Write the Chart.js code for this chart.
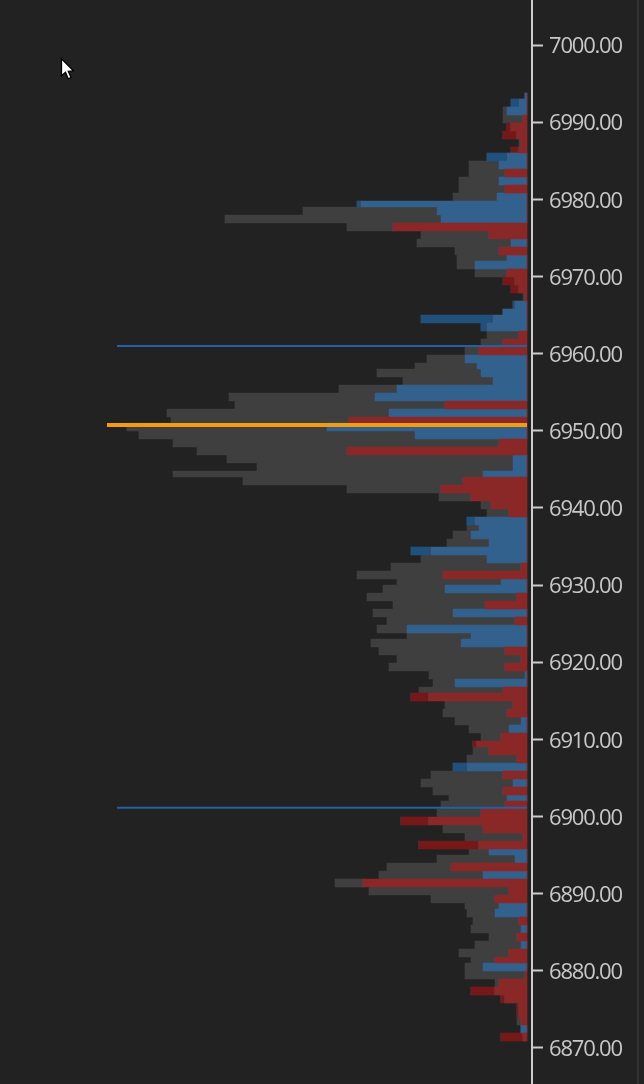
<!DOCTYPE html>
<html lang="en">

<head>
    <meta charset="UTF-8">
    <title>Volume Profile</title>
    <script src="https://cdn.jsdelivr.net/npm/chart.js"></script>
    <style>
        html, body { margin: 0; background: #222222; overflow: hidden; }
        #wrap { position: relative; width: 644px; height: 1084px; }
        #strip { position: absolute; left: 637px; top: 0; width: 2px; height: 1084px; background: #333333; }
        #cursor { position: absolute; left: 59px; top: 57px; }
    </style>
</head>

<body>
    <div id="wrap">
        <canvas id="profile" width="644" height="1084"></canvas>
        <div id="strip"></div>
        <svg id="cursor" width="20" height="25" viewBox="0 0 16 20">
            <path d="M2 1.5 L2 15 L5.2 12.2 L7.4 17.4 L9.6 16.4 L7.4 11.4 L11.5 11 Z" fill="#fff" stroke="#000" stroke-width="1"/>
        </svg>
    </div>

    <script>
        // price rows, top to bottom, and the size of each segment stacked out from the axis
        var prices = [
            6993, 6992, 6991, 6990, 6989, 6988, 6987, 6986, 6985, 6984,
            6983, 6982, 6981, 6980, 6979, 6978, 6977, 6976, 6975, 6974,
            6973, 6972, 6971, 6970, 6969, 6968, 6967, 6966, 6965, 6964,
            6963, 6962, 6961, 6960, 6959, 6958, 6957, 6956, 6955, 6954,
            6953, 6952, 6951, 6950, 6949, 6948, 6947, 6946, 6945, 6944,
            6943, 6942, 6941, 6940, 6939, 6938, 6937, 6936, 6935, 6934,
            6933, 6932, 6931, 6930, 6929, 6928, 6927, 6926, 6925, 6924,
            6923, 6922, 6921, 6920, 6919, 6918, 6917, 6916, 6915, 6914,
            6913, 6912, 6911, 6910, 6909, 6908, 6907, 6906, 6905, 6904,
            6903, 6902, 6901, 6900, 6899, 6898, 6897, 6896, 6895, 6894,
            6893, 6892, 6891, 6890, 6889, 6888, 6887, 6886, 6885, 6884,
            6883, 6882, 6881, 6880, 6879, 6878, 6877, 6876, 6875, 6874,
            6873, 6872, 6871
        ];
        var sellDelta = [
            0, 0, 0, 4, 16, 10, 6, 8, 0, 0,
            22, 0, 22, 0, 0, 0, 0, 134, 38, 0,
            28, 0, 0, 20, 12, 8, 2, 0, 0, 0,
            0, 8, 24, 48, 0, 0, 0, 0, 0, 0,
            82, 0, 178, 0, 0, 28, 180, 0, 0, 0,
            64, 86, 56, 36, 18, 0, 0, 0, 0, 0,
            0, 6, 84, 0, 0, 10, 42, 0, 12, 0,
            0, 0, 22, 6, 22, 0, 0, 24, 98, 14,
            20, 0, 0, 26, 50, 38, 10, 0, 24, 0,
            24, 0, 22, 46, 98, 44, 4, 48, 0, 0,
            76, 0, 164, 18, 32, 0, 0, 8, 0, 10,
            0, 18, 32, 0, 2, 28, 32, 22, 8, 8,
            6, 0, 4
        ];
        var buyDelta = [
            2, 8, 20, 0, 0, 0, 0, 0, 20, 28,
            0, 28, 0, 30, 166, 90, 86, 0, 0, 16,
            0, 20, 52, 0, 0, 0, 0, 12, 24, 34,
            40, 0, 0, 0, 62, 50, 46, 34, 130, 152,
            0, 138, 0, 200, 112, 0, 0, 14, 14, 44,
            0, 0, 0, 0, 0, 52, 48, 56, 38, 96,
            40, 0, 0, 26, 82, 0, 0, 74, 0, 120,
            56, 66, 0, 0, 0, 2, 72, 0, 0, 0,
            0, 6, 18, 0, 0, 0, 0, 60, 0, 14,
            0, 20, 0, 0, 0, 0, 0, 0, 38, 12,
            0, 44, 0, 0, 0, 28, 32, 0, 6, 0,
            6, 0, 0, 44, 0, 0, 0, 0, 0, 0,
            0, 6, 0
        ];
        var sellExcess = [
            0, 0, 0, 0, 4, 14, 0, 8, 0, 0,
            0, 0, 0, 0, 0, 0, 0, 0, 0, 0,
            0, 0, 0, 0, 12, 8, 0, 0, 0, 0,
            0, 0, 0, 0, 0, 0, 0, 0, 0, 0,
            0, 0, 0, 0, 0, 0, 0, 0, 0, 0,
            0, 0, 0, 0, 0, 0, 0, 0, 0, 0,
            0, 0, 0, 0, 0, 0, 0, 0, 0, 0,
            0, 0, 0, 0, 0, 0, 0, 0, 18, 0,
            0, 0, 0, 0, 4, 0, 0, 0, 0, 0,
            0, 0, 0, 0, 28, 0, 0, 60, 0, 0,
            0, 0, 0, 0, 0, 0, 0, 0, 0, 0,
            0, 0, 0, 0, 0, 0, 24, 4, 2, 2,
            0, 0, 22
        ];
        var buyExcess = [
            0, 8, 0, 0, 0, 0, 0, 0, 20, 0,
            0, 0, 0, 0, 4, 0, 0, 0, 0, 0,
            0, 0, 0, 0, 0, 0, 0, 2, 0, 72,
            6, 0, 0, 0, 0, 0, 0, 0, 0, 0,
            0, 0, 0, 0, 0, 0, 0, 0, 0, 0,
            0, 0, 0, 0, 0, 8, 0, 0, 0, 20,
            0, 0, 0, 0, 0, 0, 0, 0, 0, 0,
            0, 0, 0, 0, 0, 0, 0, 0, 0, 0,
            0, 0, 0, 0, 0, 0, 0, 14, 0, 0,
            0, 0, 0, 0, 0, 0, 0, 0, 0, 0,
            0, 0, 0, 0, 0, 0, 0, 0, 0, 0,
            0, 0, 0, 0, 0, 0, 0, 0, 0, 0,
            0, 0, 0
        ];
        var restVolume = [
            0, 0, 4, 20, 0, 0, 2, 0, 0, 30,
            36, 40, 46, 44, 0, 134, 216, 46, 68, 94,
            44, 50, 18, 32, 0, 0, 2, 0, 0, 0,
            0, 32, 22, 14, 38, 62, 104, 90, 58, 146,
            210, 222, 178, 200, 276, 326, 150, 286, 256, 310,
            220, 94, 32, 10, 22, 0, 12, 18, 42, 0,
            66, 130, 86, 104, 62, 150, 92, 80, 128, 30,
            64, 90, 126, 124, 116, 96, 22, 84, 0, 68,
            64, 66, 40, 20, 0, 16, 50, 0, 72, 92,
            70, 58, 64, 44, 0, 40, 58, 0, 20, 78,
            64, 104, 28, 140, 64, 34, 28, 46, 50, 28,
            46, 50, 24, 18, 60, 4, 0, 0, 0, 0,
            4, 0, 0
        ];

        // reference levels: price and how far the line runs out from the axis
        var pocLevel = [6950.75, 420];
        var levelLines = [[6960.99, 410], [6901.13, 410]];

        var yTicks = { min: 6865.32, max: 7005.84, step: 10 };

        // rows land on every second pixel, same as the platform draws them
        function snapEdge(v) {
            return 2 * Math.round((v - 1) / 2) + 1;
        }

        var snapRows = {
            id: 'snapRows',
            beforeDraw: function (chart) {
                // axis text sits tight, the way the platform renders it
                chart.ctx.letterSpacing = '-1.2px';
            },
            afterDatasetsUpdate: function (chart) {
                chart.data.datasets.forEach(function (ds, i) {
                    if (ds.type === 'line') return;
                    chart.getDatasetMeta(i).data.forEach(function (bar) {
                        var top = snapEdge(bar.y - bar.height / 2);
                        var bottom = snapEdge(bar.y + bar.height / 2);
                        bar.y = (top + bottom) / 2;
                        bar.height = bottom - top;
                    });
                });
                // drop the price labels a touch below their tick marks
                chart.scales.y.getLabelItems().forEach(function (item) {
                    item.options.translation[1] += 2;
                });
            }
        };

        function barSet(label, values, color) {
            return {
                label: label,
                data: values,
                backgroundColor: color,
                borderWidth: 0,
                barPercentage: 1,
                categoryPercentage: 1,
                order: 2
            };
        }

        function lineSet(label, level, color, width) {
            return {
                type: 'line',
                label: label,
                data: [{ x: 0, y: level[0] }, { x: level[1], y: level[0] }],
                borderColor: color,
                borderWidth: width,
                pointRadius: 0,
                stack: 'levels',
                order: 1
            };
        }

        var ctx = document.getElementById('profile').getContext('2d');
        var myChart = new Chart(ctx, {
            type: 'bar',
            data: {
                labels: prices.map(function (p) { return p + 0.4; }),
                datasets: [
                    barSet('Sell', sellDelta, '#8a2828'),
                    barSet('Buy', buyDelta, '#33618e'),
                    barSet('Sell excess', sellExcess, '#771818'),
                    barSet('Buy excess', buyExcess, '#20507c'),
                    barSet('Volume', restVolume, '#3f3f3f'),
                    lineSet('Level 1', levelLines[0], '#2360a5', 2),
                    lineSet('Level 2', levelLines[1], '#2360a5', 2),
                    lineSet('POC', pocLevel, '#f39c12', 4)
                ]
            },
            plugins: [snapRows],
            options: {
                indexAxis: 'y',
                responsive: false,
                animation: false,
                events: [],
                layout: { padding: 0 },
                plugins: { legend: { display: false }, tooltip: { enabled: false } },
                scales: {
                    x: {
                        display: false,
                        stacked: true,
                        reverse: true,
                        min: -5,
                        max: 527
                    },
                    y: {
                        type: 'linear',
                        position: 'right',
                        stacked: true,
                        offset: false,
                        min: yTicks.min,
                        max: yTicks.max,
                        afterFit: function (scale) {
                            scale.width = 112;
                            scale.paddingTop = 0;
                            scale.paddingBottom = 0;
                        },
                        border: { display: true, color: '#cccccc', width: 2 },
                        grid: {
                            offset: false,
                            drawOnChartArea: false,
                            drawTicks: true,
                            tickColor: '#cccccc',
                            tickWidth: 2,
                            tickLength: 11
                        },
                        ticks: {
                            stepSize: yTicks.step,
                            includeBounds: false,
                            color: '#c8c8c8',
                            padding: 6,
                            font: { family: 'Open Sans', size: 22 },
                            callback: function (value) {
                                return value.toFixed(2);
                            }
                        }
                    }
                }
            }
        });
    </script>
</body>

</html>
